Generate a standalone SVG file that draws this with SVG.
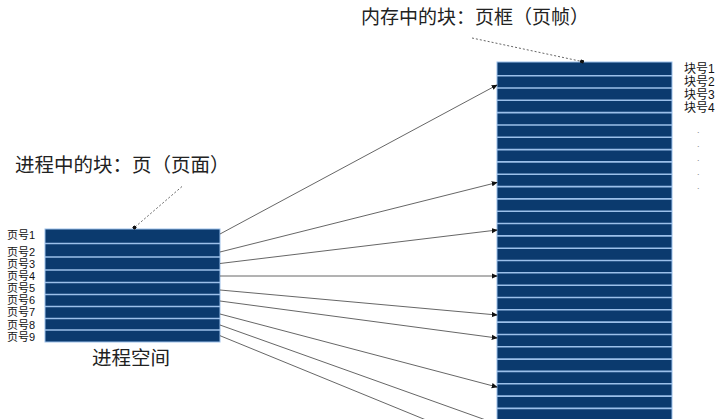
<svg xmlns="http://www.w3.org/2000/svg" width="720" height="419" viewBox="0 0 720 419">
<defs>
<style>
.blk{fill:#0b3a6e;stroke:#9cc0ea;stroke-width:1}
.sep{stroke:#9cc0ea;stroke-width:1.6}
.lbl{font-family:"Liberation Sans","Noto Sans CJK SC",sans-serif;font-size:12px;fill:#111}
.plbl{font-family:"Liberation Sans","Noto Sans CJK SC",sans-serif;font-size:11px;fill:#111}
.title{font-family:"Noto Sans CJK SC",sans-serif;fill:#222}
.conn{stroke:#555;stroke-width:0.9;fill:none;marker-end:url(#arr)}
.lead{stroke:#555;stroke-width:0.9;fill:none;stroke-dasharray:2 2;marker-end:url(#dot)}
.dots{font-family:"Liberation Sans",sans-serif;font-size:9px;fill:#888}
</style>
<marker id="arr" viewBox="0 0 8 8" refX="7" refY="4" markerWidth="6" markerHeight="6" markerUnits="userSpaceOnUse" orient="auto">
<path d="M0,0.5 L8,4 L0,7.5 Z" fill="#111"/>
</marker>
<marker id="dot" viewBox="0 0 6 6" refX="3" refY="3" markerWidth="4" markerHeight="4" markerUnits="userSpaceOnUse" orient="auto">
<circle cx="3" cy="3" r="3" fill="#111"/>
</marker>
</defs>
<rect width="720" height="419" fill="#fff"/>

<text class="title" x="361" y="24" font-size="19">内存中的块：页框（页帧）</text>
<text class="title" x="15" y="172" font-size="19.5">进程中的块：页（页面）</text>

<g id="process-space">
<rect class="blk" x="45" y="229" width="175" height="113"/>
<line class="sep" x1="45" y1="243.5" x2="220" y2="243.5"/>
<line class="sep" x1="45" y1="257" x2="220" y2="257"/>
<line class="sep" x1="45" y1="270" x2="220" y2="270"/>
<line class="sep" x1="45" y1="282.5" x2="220" y2="282.5"/>
<line class="sep" x1="45" y1="294.5" x2="220" y2="294.5"/>
<line class="sep" x1="45" y1="306.5" x2="220" y2="306.5"/>
<line class="sep" x1="45" y1="318.5" x2="220" y2="318.5"/>
<line class="sep" x1="45" y1="330" x2="220" y2="330"/>
<text class="plbl" x="7" y="239">页号1</text>
<text class="plbl" x="7" y="255.5">页号2</text>
<text class="plbl" x="7" y="267.5">页号3</text>
<text class="plbl" x="7" y="279.5">页号4</text>
<text class="plbl" x="7" y="291.5">页号5</text>
<text class="plbl" x="7" y="303.5">页号6</text>
<text class="plbl" x="7" y="316">页号7</text>
<text class="plbl" x="7" y="328.5">页号8</text>
<text class="plbl" x="7" y="341">页号9</text>
<text class="title" x="131" y="365" font-size="19.5" text-anchor="middle">进程空间</text>
</g>

<g id="memory">
<rect class="blk" x="497" y="62" width="175" height="370"/>
<g class="sep">
<line x1="497" y1="75.7" x2="672" y2="75.7"/>
<line x1="497" y1="88" x2="672" y2="88"/>
<line x1="497" y1="100.3" x2="672" y2="100.3"/>
<line x1="497" y1="112.6" x2="672" y2="112.6"/>
<line x1="497" y1="125" x2="672" y2="125"/>
<line x1="497" y1="137.3" x2="672" y2="137.3"/>
<line x1="497" y1="149.6" x2="672" y2="149.6"/>
<line x1="497" y1="161.9" x2="672" y2="161.9"/>
<line x1="497" y1="174.3" x2="672" y2="174.3"/>
<line x1="497" y1="186.6" x2="672" y2="186.6"/>
<line x1="497" y1="198.9" x2="672" y2="198.9"/>
<line x1="497" y1="211.2" x2="672" y2="211.2"/>
<line x1="497" y1="223.5" x2="672" y2="223.5"/>
<line x1="497" y1="235.9" x2="672" y2="235.9"/>
<line x1="497" y1="248.2" x2="672" y2="248.2"/>
<line x1="497" y1="260.5" x2="672" y2="260.5"/>
<line x1="497" y1="272.8" x2="672" y2="272.8"/>
<line x1="497" y1="285.2" x2="672" y2="285.2"/>
<line x1="497" y1="297.5" x2="672" y2="297.5"/>
<line x1="497" y1="309.8" x2="672" y2="309.8"/>
<line x1="497" y1="322.1" x2="672" y2="322.1"/>
<line x1="497" y1="334.5" x2="672" y2="334.5"/>
<line x1="497" y1="346.8" x2="672" y2="346.8"/>
<line x1="497" y1="359.1" x2="672" y2="359.1"/>
<line x1="497" y1="371.4" x2="672" y2="371.4"/>
<line x1="497" y1="383.8" x2="672" y2="383.8"/>
<line x1="497" y1="396.1" x2="672" y2="396.1"/>
<line x1="497" y1="408.4" x2="672" y2="408.4"/>
</g>
<text class="lbl" x="684" y="72.5">块号1</text>
<text class="lbl" x="684" y="85.5">块号2</text>
<text class="lbl" x="684" y="98.5">块号3</text>
<text class="lbl" x="684" y="112">块号4</text>
<text class="dots" x="697" y="133">.</text>
<text class="dots" x="697" y="147">.</text>
<text class="dots" x="697" y="161">.</text>
<text class="dots" x="697" y="175">.</text>
<text class="dots" x="697" y="189">.</text>
</g>

<g id="connectors">
<line class="conn" x1="220" y1="234" x2="497" y2="85"/>
<line class="conn" x1="220" y1="252" x2="497" y2="182.5"/>
<line class="conn" x1="220" y1="263.5" x2="497" y2="230"/>
<line class="conn" x1="220" y1="276" x2="497" y2="276"/>
<line class="conn" x1="220" y1="290" x2="497" y2="315"/>
<line class="conn" x1="220" y1="301" x2="497" y2="338"/>
<line class="conn" x1="220" y1="314" x2="497" y2="387"/>
<line class="conn" x1="220" y1="325" x2="497" y2="424"/>
<line class="conn" x1="220" y1="335.7" x2="497" y2="449"/>
<line class="lead" x1="472" y1="38" x2="582" y2="61.5"/>
<line class="lead" x1="182" y1="186.5" x2="134.5" y2="227.5"/>
</g>
</svg>
